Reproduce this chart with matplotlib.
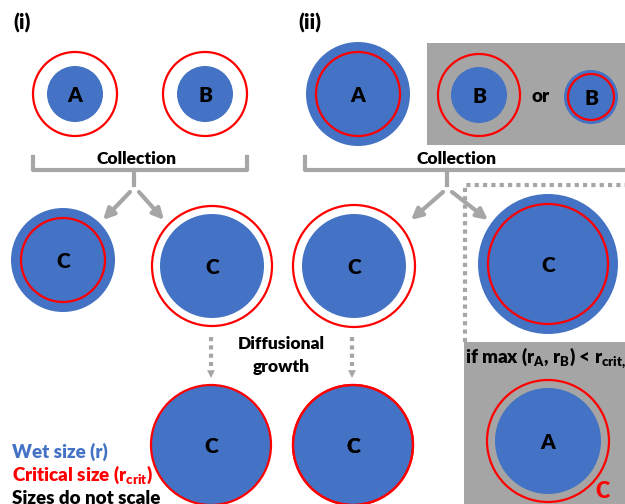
import matplotlib
matplotlib.use('Agg')
import matplotlib.pyplot as plt
from matplotlib.patches import Circle, Rectangle, FancyArrowPatch

plt.rcParams['font.family'] = ['Lato', 'DejaVu Sans']
plt.rcParams['font.weight'] = 'heavy'
plt.rcParams['mathtext.fontset'] = 'custom'
plt.rcParams['mathtext.rm'] = 'Lato:heavy'
plt.rcParams['mathtext.it'] = 'Lato:heavy'
plt.rcParams['mathtext.bf'] = 'Lato:heavy'
plt.rcParams['mathtext.default'] = 'rm'

BLUE = '#4472C4'
RED = '#FF0000'
GREY = '#A6A6A6'
W = 'heavy'

# droplets: label, x, y, wet radius, critical radius
drop_labels = ['A', 'B', 'C', 'C', 'C',
               'A', 'B', 'B', 'C', 'C', 'C', 'C', 'A']
drop_x = [75, 205, 63, 212, 211,
          358, 479, 591, 354, 548, 353, 353, 548]
drop_y = [94, 94, 260, 266, 445,
          94, 95, 97, 266, 264, 445, 445, 441]
wet_r = [28, 28, 52, 52, 60,
         52, 28, 27, 52, 70, 60, 60, 53]
crit_r = [42, 42, 42, 60, 60,
          42, 41, 23, 61, 60, 60, 60, 61]

panel_labels = ['(i)', '(ii)']
legend_lines = ['Wet size (r)', r'Critical size (r$_{\rm crit}$)', 'Sizes do not scale']
legend_colors = [BLUE, RED, 'black']

fig = plt.figure(figsize=(6.25, 5.04), dpi=100)
ax = fig.add_axes([0, 0, 1, 1])
ax.set_xlim(0, 625)
ax.set_ylim(504, 0)
ax.set_aspect('equal')
ax.axis('off')

# grey backgrounds
ax.add_patch(Rectangle((427, 43), 210, 102, facecolor='#A5A5A5', edgecolor='none', zorder=0))
ax.add_patch(Rectangle((464, 342), 170, 170, facecolor='#A5A5A5', edgecolor='none', zorder=0))

# dotted frame
ax.plot([465, 465, 630], [342, 185, 185], color=GREY, lw=3, linestyle=(0, (1, 1)),
        dash_capstyle='butt', zorder=1)

for lab, x, y, rw, rc in zip(drop_labels, drop_x, drop_y, wet_r, crit_r):
    ax.add_patch(Circle((x, y), rw, facecolor=BLUE, edgecolor='none', zorder=2))
    ax.add_patch(Circle((x, y), rc, fill=False, edgecolor=RED, lw=1.6, zorder=3))
    ax.text(x, y + 1.5, lab, ha='center', va='center', fontsize=15, fontweight=W, zorder=4)

ax.text(541, 97, 'or', ha='center', va='center', fontsize=13.5, fontweight=W)
ax.text(602, 492, 'C', ha='center', va='center', fontsize=15.5, fontweight=W, color=RED)

# collection brackets
for left, right, stem in [(33, 247, 134), (305, 640, 447)]:
    ax.plot([left, left, right, right], [157, 170, 170, 157], color=GREY, lw=3,
            solid_joinstyle='round', zorder=1)
    ax.plot([stem, stem], [170, 185], color=GREY, lw=3, zorder=1)
ax.text(137, 159, 'Collection', ha='center', va='center', fontsize=12.5, fontweight=W)
ax.text(457, 159, 'Collection', ha='center', va='center', fontsize=12.5, fontweight=W)

# solid arrows
for start, end in [((130, 192), (103, 220)), ((139, 192), (164, 220)),
                   ((443, 192), (411, 220)), ((452, 192), (488, 220))]:
    ax.add_patch(FancyArrowPatch(start, end, arrowstyle='-|>', mutation_scale=16,
                                 color=GREY, lw=3, shrinkA=0, shrinkB=0, zorder=1))

# dotted arrows (diffusional growth)
for x in [211, 352]:
    ax.plot([x, x], [337, 366], color=GREY, lw=3, linestyle=(0, (1, 1)), dash_capstyle='butt')
    ax.add_patch(FancyArrowPatch((x, 364), (x, 378), arrowstyle='-|>', mutation_scale=14,
                                 color=GREY, lw=0, shrinkA=0, shrinkB=0))
ax.text(281, 344, 'Diffusional', ha='center', va='center', fontsize=12.5, fontweight=W)
ax.text(281, 367, 'growth', ha='center', va='center', fontsize=12.5, fontweight=W)

ax.text(465, 358, r'if max (r$_{\rm A}$, r$_{\rm B}$) < r$_{\rm crit,C}$', ha='left', va='center',
        fontsize=13.5, fontweight=W)

ax.text(22, 23, panel_labels[0], ha='center', va='center', fontsize=15, fontweight=W)
ax.text(310, 23, panel_labels[1], ha='center', va='center', fontsize=15, fontweight=W)

for i, (txt, col) in enumerate(zip(legend_lines, legend_colors)):
    ax.text(12, 452 + 23 * i, txt, ha='left', va='center', fontsize=13.5,
            fontweight=W, color=col)

fig.savefig('out.png', dpi=100)
